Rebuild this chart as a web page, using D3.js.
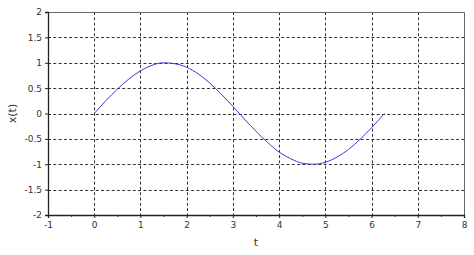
<!DOCTYPE html>
<html>
<head>
<meta charset="utf-8">
<script src="https://cdn.jsdelivr.net/npm/d3@7"></script>
<style>
  body { margin: 0; background: #fff; }
  text { font-family: "DejaVu Sans", sans-serif; }
</style>
</head>
<body>
<div id="wrapper"></div>
<script>
// samples
const tValues = [0, 0.25, 0.5, 0.75, 1, 1.25, 1.5, 1.75, 2, 2.25, 2.5, 2.75, 3, 3.25,
  3.5, 3.75, 4, 4.25, 4.5, 4.75, 5, 5.25, 5.5, 5.75, 6, 6.28];
const xValues = [0, 0.25, 0.48, 0.68, 0.84, 0.95, 1.0, 0.98, 0.91, 0.78, 0.6, 0.38, 0.14, -0.11,
  -0.35, -0.57, -0.76, -0.89, -0.98, -1.0, -0.96, -0.86, -0.71, -0.51, -0.28, 0];
const xTicks = [-1, 0, 1, 2, 3, 4, 5, 6, 7, 8];
const yTicks = [-2, -1.5, -1, -0.5, 0, 0.5, 1, 1.5, 2];

const dataset = tValues.map((t, i) => ({ t: t, x: xValues[i] }));

const dimensions = {
  width: 474,
  height: 255,
  margin: { top: 12, right: 10, bottom: 40, left: 48 },
};
dimensions.boundedWidth = dimensions.width - dimensions.margin.left - dimensions.margin.right;
dimensions.boundedHeight = dimensions.height - dimensions.margin.top - dimensions.margin.bottom;

const wrapper = d3.select('#wrapper')
  .append('svg')
  .attr('width', dimensions.width)
  .attr('height', dimensions.height);

const bounds = wrapper.append('g')
  .attr('transform', `translate(${dimensions.margin.left},${dimensions.margin.top})`);

const xScale = d3.scaleLinear().domain([-1, 8]).range([0, dimensions.boundedWidth]);
const yScale = d3.scaleLinear().domain([-2, 2]).range([dimensions.boundedHeight, 0]);

// grid
const grid = bounds.append('g')
  .attr('stroke', '#333')
  .attr('stroke-width', 1)
  .attr('stroke-dasharray', '3,2.3');
grid.selectAll('.vgrid')
  .data(xTicks.slice(1, -1))
  .join('line')
  .attr('x1', (d) => Math.round(xScale(d)) + 0.5)
  .attr('x2', (d) => Math.round(xScale(d)) + 0.5)
  .attr('y1', 0)
  .attr('y2', dimensions.boundedHeight);
grid.selectAll('.hgrid')
  .data(yTicks.slice(1, -1))
  .join('line')
  .attr('y1', (d) => Math.round(yScale(d)) + 0.5)
  .attr('y2', (d) => Math.round(yScale(d)) + 0.5)
  .attr('x1', 0)
  .attr('x2', dimensions.boundedWidth);

// top & right frame
bounds.append('path')
  .attr('d', `M0.5,0.5H${dimensions.boundedWidth + 0.5}V${dimensions.boundedHeight}`)
  .attr('fill', 'none')
  .attr('stroke', '#666')
  .attr('stroke-width', 1);

// curve
const line = d3.line()
  .x((d) => xScale(d.t))
  .y((d) => yScale(d.x))
  .curve(d3.curveMonotoneX);
bounds.append('path')
  .datum(dataset)
  .attr('d', line)
  .attr('fill', 'none')
  .attr('stroke', '#3c3cd0')
  .attr('stroke-width', 1);

// axes (plain hyphen for negatives, like the original)
const fmt = (d) => String(d);
const xAxis = bounds.append('g')
  .attr('transform', `translate(0,${dimensions.boundedHeight})`)
  .call(d3.axisBottom(xScale).tickValues(xTicks).tickSize(3).tickPadding(4).tickFormat(fmt));
bounds.append('g')
  .attr('transform', `translate(0,${dimensions.boundedHeight})`)
  .call(d3.axisBottom(xScale).tickValues(xTicks.slice(0, -1).map((d) => d + 0.5)).tickSize(2).tickFormat(''))
  .call((g) => g.select('.domain').remove())
  .selectAll('line').attr('stroke', '#333');

const yAxis = bounds.append('g')
  .call(d3.axisLeft(yScale).tickValues(yTicks).tickSize(3).tickPadding(3).tickFormat(fmt));

[xAxis, yAxis].forEach((g) => {
  g.select('.domain').attr('stroke', '#222').attr('stroke-width', 1.3);
  g.selectAll('.tick line').attr('stroke', '#222');
  g.selectAll('.tick text').attr('fill', '#333').style('font-size', '9px');
});

// labels
wrapper.append('text')
  .attr('x', dimensions.margin.left + xScale(3.5))
  .attr('y', 246)
  .attr('text-anchor', 'middle')
  .style('font-size', '11px')
  .attr('fill', '#333')
  .text('t');

wrapper.append('text')
  .attr('transform', `translate(16,${dimensions.margin.top + yScale(0)}) rotate(-90)`)
  .attr('text-anchor', 'middle')
  .style('font-size', '11px')
  .attr('fill', '#333')
  .text('x(t)');
</script>
</body>
</html>
